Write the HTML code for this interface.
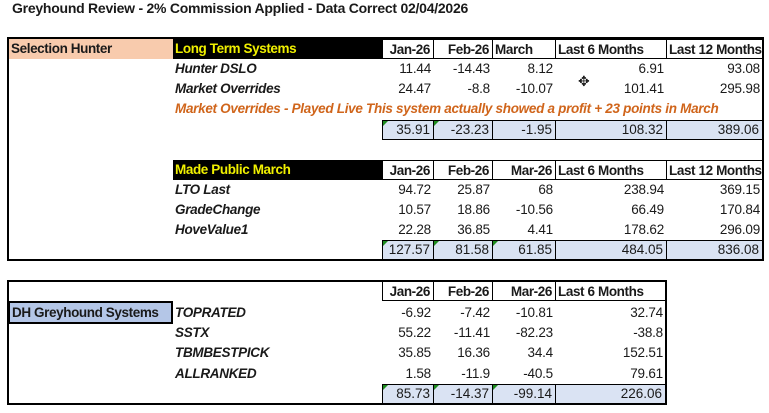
<!DOCTYPE html>
<html><head><meta charset="utf-8"><style>
body{margin:0;width:769px;height:413px;background:#fff;position:relative;overflow:hidden;font-family:"Liberation Sans",sans-serif;font-size:13.5px;color:#1a1a1a}
div{position:absolute;box-sizing:border-box;white-space:nowrap}
.t{font-weight:bold;font-size:14px;letter-spacing:-0.25px}
.n{text-align:right;padding-right:3px;height:20px;line-height:20px;letter-spacing:-0.2px}
.h{font-weight:bold;height:20px;line-height:20px;background:#fff;border:1px solid #000;letter-spacing:-0.4px}
.l{font-weight:bold;font-style:italic;height:20px;line-height:20px;left:175px;letter-spacing:-0.3px}
.tot{background:#dae3f3;border:1px solid #000;height:20px;line-height:18px;text-align:right;padding-right:3px}
.g::before{content:"";position:absolute;left:0;top:0;border-top:5px solid #1e8c1e;border-right:5px solid transparent}
.box{border:2px solid #000}
</style></head><body>
<div class="t" style="left:12px;top:0px">Greyhound Review - 2% Commission Applied - Data Correct 02/04/2026</div>

<div class="box" style="left:7px;top:37px;width:757px;height:224px"></div>
<div class="h" style="left:9px;top:39px;width:164px;background:#f8cbad;border:none;padding-left:2px">Selection Hunter</div>
<div class="h" style="left:173px;top:39px;width:209px;background:#000;color:#f0f000;border:none;padding-left:2px">Long Term Systems</div>
<div class="h" style="left:382px;top:39px;width:52px;text-align:right;padding-right:3px">Jan-26</div>
<div class="h" style="left:433px;top:39px;width:60px;text-align:right;padding-right:3px">Feb-26</div>
<div class="h" style="left:492px;top:39px;width:64px;padding-left:2px">March</div>
<div class="h" style="left:555px;top:39px;width:112px;padding-left:2px">Last 6 Months</div>
<div class="h" style="left:666px;top:39px;width:97px;padding-left:2px">Last 12 Months</div>

<div class="l" style="top:59px">Hunter DSLO</div>
<div class="n" style="left:382px;top:59px;width:52px">11.44</div>
<div class="n" style="left:433px;top:59px;width:60px">-14.43</div>
<div class="n" style="left:492px;top:59px;width:64px">8.12</div>
<div class="n" style="left:555px;top:59px;width:112px">6.91</div>
<div class="n" style="left:666px;top:59px;width:97px">93.08</div>
<div style="left:578px;top:73px;font-size:14px">✥</div>

<div class="l" style="top:79px">Market Overrides</div>
<div class="n" style="left:382px;top:79px;width:52px">24.47</div>
<div class="n" style="left:433px;top:79px;width:60px">-8.8</div>
<div class="n" style="left:492px;top:79px;width:64px">-10.07</div>
<div class="n" style="left:555px;top:79px;width:112px">101.41</div>
<div class="n" style="left:666px;top:79px;width:97px">295.98</div>

<div class="l" style="top:99px;color:#d0651b">Market Overrides - Played Live This system actually showed a profit + 23 points in March</div>

<div class="tot g" style="left:382px;top:120px;width:52px">35.91</div>
<div class="tot g" style="left:433px;top:120px;width:60px">-23.23</div>
<div class="tot" style="left:492px;top:120px;width:64px">-1.95</div>
<div class="tot" style="left:555px;top:120px;width:112px">108.32</div>
<div class="tot" style="left:666px;top:120px;width:97px">389.06</div>

<div class="h" style="left:173px;top:160px;width:209px;background:#000;color:#f0f000;border:none;padding-left:2px">Made Public March</div>
<div class="h" style="left:382px;top:160px;width:52px;text-align:right;padding-right:3px">Jan-26</div>
<div class="h" style="left:433px;top:160px;width:60px;text-align:right;padding-right:3px">Feb-26</div>
<div class="h" style="left:492px;top:160px;width:64px;text-align:right;padding-right:3px">Mar-26</div>
<div class="h" style="left:555px;top:160px;width:112px;padding-left:2px">Last 6 Months</div>
<div class="h" style="left:666px;top:160px;width:97px;padding-left:2px">Last 12 Months</div>

<div class="l" style="top:180px">LTO Last</div>
<div class="n" style="left:382px;top:180px;width:52px">94.72</div>
<div class="n" style="left:433px;top:180px;width:60px">25.87</div>
<div class="n" style="left:492px;top:180px;width:64px">68</div>
<div class="n" style="left:555px;top:180px;width:112px">238.94</div>
<div class="n" style="left:666px;top:180px;width:97px">369.15</div>
<div class="l" style="top:200px">GradeChange</div>
<div class="n" style="left:382px;top:200px;width:52px">10.57</div>
<div class="n" style="left:433px;top:200px;width:60px">18.86</div>
<div class="n" style="left:492px;top:200px;width:64px">-10.56</div>
<div class="n" style="left:555px;top:200px;width:112px">66.49</div>
<div class="n" style="left:666px;top:200px;width:97px">170.84</div>
<div class="l" style="top:220px">HoveValue1</div>
<div class="n" style="left:382px;top:220px;width:52px">22.28</div>
<div class="n" style="left:433px;top:220px;width:60px">36.85</div>
<div class="n" style="left:492px;top:220px;width:64px">4.41</div>
<div class="n" style="left:555px;top:220px;width:112px">178.62</div>
<div class="n" style="left:666px;top:220px;width:97px">296.09</div>

<div class="tot g" style="left:382px;top:240px;width:52px">127.57</div>
<div class="tot g" style="left:433px;top:240px;width:60px">81.58</div>
<div class="tot g" style="left:492px;top:240px;width:64px">61.85</div>
<div class="tot" style="left:555px;top:240px;width:112px">484.05</div>
<div class="tot" style="left:666px;top:240px;width:97px">836.08</div>

<div class="box" style="left:7px;top:280px;width:660px;height:125px"></div>
<div class="h" style="left:382px;top:281px;width:52px;text-align:right;padding-right:3px">Jan-26</div>
<div class="h" style="left:433px;top:281px;width:60px;text-align:right;padding-right:3px">Feb-26</div>
<div class="h" style="left:492px;top:281px;width:64px;text-align:right;padding-right:3px">Mar-26</div>
<div class="h" style="left:555px;top:281px;width:111px;padding-left:2px">Last 6 Months</div>
<div class="h" style="left:8px;top:301px;width:165px;height:23px;background:#b4c6e7;border:2px solid #000;padding-left:2px;line-height:19px">DH Greyhound Systems</div>

<div class="l" style="top:303px">TOPRATED</div>
<div class="n" style="left:382px;top:303px;width:52px">-6.92</div>
<div class="n" style="left:433px;top:303px;width:60px">-7.42</div>
<div class="n" style="left:492px;top:303px;width:64px">-10.81</div>
<div class="n" style="left:555px;top:303px;width:111px">32.74</div>
<div class="l" style="top:323px">SSTX</div>
<div class="n" style="left:382px;top:323px;width:52px">55.22</div>
<div class="n" style="left:433px;top:323px;width:60px">-11.41</div>
<div class="n" style="left:492px;top:323px;width:64px">-82.23</div>
<div class="n" style="left:555px;top:323px;width:111px">-38.8</div>
<div class="l" style="top:343px">TBMBESTPICK</div>
<div class="n" style="left:382px;top:343px;width:52px">35.85</div>
<div class="n" style="left:433px;top:343px;width:60px">16.36</div>
<div class="n" style="left:492px;top:343px;width:64px">34.4</div>
<div class="n" style="left:555px;top:343px;width:111px">152.51</div>
<div class="l" style="top:364px">ALLRANKED</div>
<div class="n" style="left:382px;top:364px;width:52px">1.58</div>
<div class="n" style="left:433px;top:364px;width:60px">-11.9</div>
<div class="n" style="left:492px;top:364px;width:64px">-40.5</div>
<div class="n" style="left:555px;top:364px;width:111px">79.61</div>

<div class="tot g" style="left:382px;top:384px;width:52px">85.73</div>
<div class="tot g" style="left:433px;top:384px;width:60px">-14.37</div>
<div class="tot g" style="left:492px;top:384px;width:64px">-99.14</div>
<div class="tot" style="left:555px;top:384px;width:111px">226.06</div>
</body></html>
